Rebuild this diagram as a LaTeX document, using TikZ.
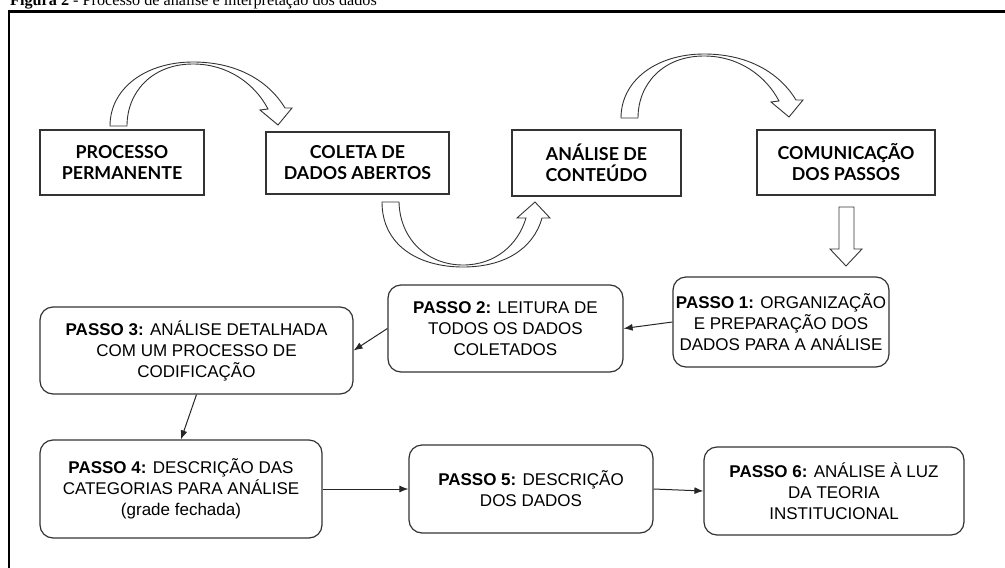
\documentclass[tikz,border=0pt]{standalone}
\usepackage{fontspec}
\setmainfont{Liberation Serif}
\setsansfont{Liberation Sans}
\newfontfamily\latofont{Lato}
\usetikzlibrary{arrows.meta}
\definecolor{edge}{HTML}{333333}
\tikzset{
  x=1pt, y=-1pt,
  topbox/.style={draw=edge, line width=1.5pt, fill=white, align=center, inner sep=0pt,
     font=\latofont\bfseries\fontsize{17.8}{21}\selectfont},
  passobox/.style={draw=edge, line width=1.2pt, rounded corners=13pt, fill=white, align=center, inner sep=0pt,
     font=\sffamily\fontsize{17}{21}\selectfont},
  conn/.style={draw=black!85, line width=1pt, -{Latex[length=9pt,width=7pt]}},
  blockarrow/.style={draw=black!80, line width=0.9pt, fill=white, line join=miter},
}
\begin{document}
\begin{tikzpicture}
\useasboundingbox (0,0) rectangle (1005,568);
% title
\node[anchor=base west, inner sep=0pt, font=\rmfamily\fontsize{16.2}{19}\selectfont] (title) at (10,5.5)
  {\textbf{Figura 2} - Processo de análise e interpretação dos dados};
% frame
\draw[line width=2.4pt] (9,600) -- (9,11.5) -- (1020,11.5);

% top boxes
\node[topbox, minimum width=164pt, minimum height=65pt] (proc) at (122,162.5) {PROCESSO\\PERMANENTE};
\node[topbox, minimum width=183pt, minimum height=62pt] (colet) at (357.5,163) {COLETA DE\\DADOS ABERTOS};
\node[topbox, minimum width=169pt, minimum height=66pt] (anal) at (596.5,163) {ANÁLISE DE\\CONTEÚDO};
\node[topbox, minimum width=178pt, minimum height=65pt] (comu) at (846,162.5) {COMUNICAÇÃO\\DOS PASSOS};

% curved block arrows (top)
\foreach \dx/\dy in {0/0, 511/-8}{
\begin{scope}[shift={(\dx,\dy)}]
\draw[blockarrow] (110,126) -- (127,126)
   .. controls (127,92) and (152,64) .. (193,64)
   .. controls (228,64) and (255,84) .. (268,109)
   -- (260,110) -- (278,125) -- (292,108) -- (285,108)
   .. controls (268,80) and (236,62) .. (193,62)
   .. controls (146,62) and (110,88) .. (110,126) -- cycle;
\end{scope}
}
% bottom U block arrow
\draw[blockarrow] (382,202) -- (399,202)
   .. controls (400,240) and (428,265) .. (463,265)
   .. controls (495,265) and (518,245) .. (526,218)
   -- (517,218) -- (535,202) -- (550,218) -- (542,218)
   .. controls (533,250) and (503,267) .. (463,267)
   .. controls (418,267) and (382,245) .. (382,202) -- cycle;
% down block arrow
\draw[blockarrow] (839,207) -- (854,207) -- (854,249) -- (862,249) -- (846,266)
   -- (830,249) -- (839,249) -- cycle;

% step boxes
\node[passobox, minimum width=216pt, minimum height=90pt] (p1) at (781,322)
  {\textbf{PASSO 1:} ORGANIZAÇÃO\\E PREPARAÇÃO DOS\\DADOS PARA A ANÁLISE};
\node[passobox, minimum width=235pt, minimum height=87pt] (p2) at (505.5,328.5)
  {\textbf{PASSO 2:} LEITURA DE\\TODOS OS DADOS\\COLETADOS};
\node[passobox, minimum width=313pt, minimum height=87pt] (p3) at (196.5,350.5)
  {\textbf{PASSO 3:} ANÁLISE DETALHADA\\COM UM PROCESSO DE\\CODIFICAÇÃO};
\node[passobox, minimum width=282pt, minimum height=98pt] (p4) at (181,489)
  {\textbf{PASSO 4:} DESCRIÇÃO DAS\\CATEGORIAS PARA ANÁLISE\\(grade fechada)};
\node[passobox, minimum width=244pt, minimum height=88pt] (p5) at (531,489)
  {\textbf{PASSO 5:} DESCRIÇÃO\\DOS DADOS};
\node[passobox, minimum width=260pt, minimum height=88pt] (p6) at (834,491)
  {\textbf{PASSO 6:} ANÁLISE À LUZ\\DA TEORIA\\INSTITUCIONAL};

% connectors
\draw[conn] (p1.west) -- (p2.east);
\draw[conn] (p2.west) -- (p3.east);
\draw[conn] (p3.south) -- (p4.north);
\draw[conn] (p4.east) -- (p5.west);
\draw[conn] (p5.east) -- (p6.west);
\end{tikzpicture}
\end{document}
